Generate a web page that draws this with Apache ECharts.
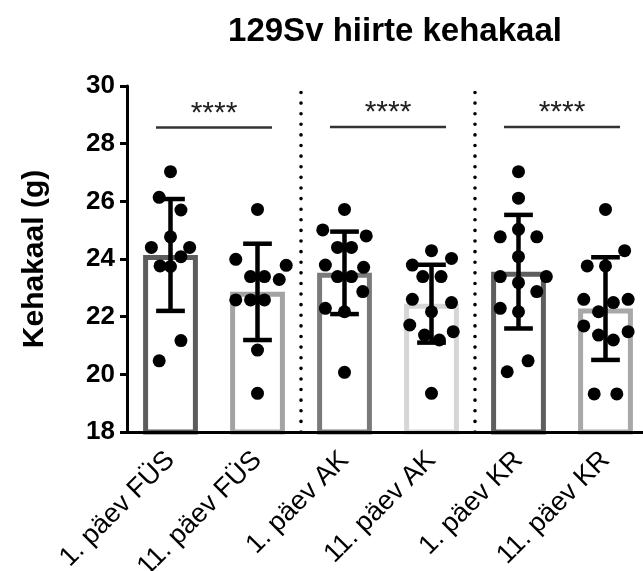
<!DOCTYPE html>
<html>
<head>
<meta charset="utf-8">
<script src="https://cdn.jsdelivr.net/npm/echarts@6/dist/echarts.min.js"></script>
<style>html,body{margin:0;padding:0;background:#fff}#c{width:643px;height:571px}</style>
</head>
<body>
<div id="c"></div>
<script>
// ---- data ----
const titleText = '129Sv hiirte kehakaal';
const yAxisName = 'Kehakaal (g)';
const categories = ['1. päev FÜS', '11. päev FÜS', '1. päev AK', '11. päev AK', '1. päev KR', '11. päev KR'];
const means = [24.14, 22.86, 23.52, 22.45, 23.56, 22.28];
const sds = [1.94, 1.67, 1.43, 1.35, 1.97, 1.78];
const dots1 = [27.03, 26.14, 25.70, 24.77, 24.40, 24.40, 24.08, 23.76, 23.74, 21.17, 20.47];
const dots2 = [25.72, 23.99, 23.78, 23.39, 23.39, 23.29, 22.58, 22.58, 22.58, 20.84, 19.34];
const dots3 = [25.72, 25.01, 24.80, 24.40, 24.40, 23.79, 23.71, 23.39, 23.39, 22.87, 22.29, 22.17, 20.07];
const dots4 = [24.29, 24.02, 23.79, 23.39, 23.39, 22.60, 22.49, 22.17, 21.71, 21.48, 21.36, 21.19, 19.34];
const dots5 = [27.03, 26.11, 25.03, 24.77, 24.77, 24.08, 23.39, 23.39, 23.18, 22.87, 22.29, 22.17, 20.47, 20.09];
const dots6 = [25.72, 24.29, 23.76, 23.76, 22.60, 22.60, 22.49, 22.17, 21.68, 21.48, 21.36, 21.19, 19.32, 19.32];
// horizontal beeswarm spread of each dot, in fractions of a category width
const jitter1 = [0, -0.13, 0.12, 0, -0.22, 0.22, 0.12, -0.12, 0, 0.12, -0.13];
const jitter2 = [0, -0.25, 0.33, -0.08, 0.08, 0.25, -0.25, -0.08, 0.08, 0, 0];
const jitter3 = [0, -0.25, 0.25, -0.08, 0.08, -0.22, 0.22, -0.08, 0.08, 0.21, -0.22, 0, 0];
const jitter4 = [0, 0.23, -0.22, -0.1, 0.11, -0.22, 0.23, 0, -0.25, 0.25, -0.08, 0.09, 0];
const jitter5 = [0, 0, 0, -0.21, 0.21, 0, -0.21, 0.32, 0, 0.21, -0.21, 0, 0.11, -0.13];
const jitter6 = [0, 0.22, -0.21, 0, -0.25, 0.26, 0.09, -0.08, -0.25, 0.26, -0.08, 0.09, -0.13, 0.13];
const yTicks = { min: 18, max: 30, interval: 2 };
const sigStart = [0, 2, 4];
const sigEnd = [1, 3, 5];
const sigLevel = [28.56, 28.58, 28.58];
const sigLabels = ['****', '****', '****'];
const separators = [1.5, 3.5];

// ---- styles ----
const FONT = '"Liberation Sans", Arial, Helvetica, sans-serif';
const barBorder = ['#5c5c5c', '#a3a3a3', '#7a7a7a', '#d6d6d6', '#5e5e5e', '#a8a8a8'];

const allDots = [dots1, dots2, dots3, dots4, dots5, dots6];
const allJitter = [jitter1, jitter2, jitter3, jitter4, jitter5, jitter6];
const scatterData = [];
allDots.forEach((arr, i) => arr.forEach((v, k) => scatterData.push([i + allJitter[i][k], v])));

const chart = echarts.init(document.getElementById('c'), null, { renderer: 'canvas' });
chart.setOption({
  backgroundColor: '#ffffff',
  animation: false,
  title: {
    text: titleText, left: 390, top: 10, textAlign: 'center',
    textStyle: { fontFamily: FONT, fontSize: 33, fontWeight: 'bold', color: '#000' }
  },
  grid: { left: 127, top: 86, width: 522, height: 346, containLabel: false, outerBoundsMode: 'none' },
  xAxis: [{
    type: 'category', data: categories, z: 10,
    axisLine: { onZero: false, lineStyle: { color: '#000', width: 3 } },
    axisTick: { alignWithLabel: true, length: 10, lineStyle: { color: '#000', width: 3 } },
    axisLabel: { rotate: 45, margin: 24, fontSize: 27, color: '#000', fontFamily: FONT, interval: 0 }
  }, {
    type: 'value', min: -0.5, max: 5.5, show: false,
    axisLine: { show: false, onZero: false }, splitLine: { show: false }
  }],
  yAxis: {
    type: 'value', min: yTicks.min, max: yTicks.max, interval: yTicks.interval,
    name: yAxisName, nameLocation: 'middle', nameGap: 77, nameRotate: 90,
    nameTextStyle: { fontFamily: FONT, fontSize: 30, fontWeight: 'bold', color: '#000' },
    axisLine: { show: true, onZero: false, lineStyle: { color: '#000', width: 3 } },
    axisTick: { show: true, length: 7, lineStyle: { color: '#000', width: 3 } },
    axisLabel: { margin: 12, fontSize: 26, fontWeight: 'bold', color: '#000', fontFamily: FONT },
    splitLine: { show: false }
  },
  series: [
    {
      type: 'bar', xAxisIndex: 0, barWidth: '63%',
      data: means.map((m, i) => ({ value: m, itemStyle: { color: '#fff', borderColor: barBorder[i], borderWidth: 5 } })),
      z: 2
    },
    {
      type: 'custom', xAxisIndex: 1, z: 3,
      dimensions: ['x', 'mean', 'sd'],
      encode: { x: 'x', y: 'mean' },
      data: means.map((m, i) => [i, m, sds[i]]),
      renderItem: function (params, api) {
        const x = api.value('x'), m = api.value('mean'), s = api.value('sd');
        const t = api.coord([x, m + s]);
        const b = api.coord([x, m - s]);
        const half = api.size([1, 0])[0] * 0.165;
        const st = { stroke: '#000', lineWidth: 4.5, fill: null };
        return { type: 'group', children: [
          { type: 'line', shape: { x1: t[0], y1: t[1], x2: b[0], y2: b[1] }, style: st },
          { type: 'line', shape: { x1: t[0] - half, y1: t[1], x2: t[0] + half, y2: t[1] }, style: st },
          { type: 'line', shape: { x1: b[0] - half, y1: b[1], x2: b[0] + half, y2: b[1] }, style: st }
        ] };
      }
    },
    {
      type: 'scatter', xAxisIndex: 1, z: 4,
      symbol: 'circle', symbolSize: 13,
      itemStyle: { color: '#000', opacity: 1 },
      data: scatterData,
      markLine: {
        silent: true, symbol: ['none', 'none'], label: { show: false },
        lineStyle: { color: '#000', width: 3.6, type: [0.01, 10.6], cap: 'round' },
        data: separators.map(s => ({ xAxis: s }))
      }
    },
    {
      type: 'custom', xAxisIndex: 1, z: 5,
      dimensions: ['a', 'b', 'y'],
      encode: { x: ['a', 'b'], y: 'y' },
      data: sigStart.map((a, i) => [a, sigEnd[i], sigLevel[i]]),
      renderItem: function (params, api) {
        const a = api.value('a'), b = api.value('b'), y = api.value('y');
        const c = (a + b) / 2;
        const p1 = api.coord([c - 0.667, y]);
        const p2 = api.coord([c + 0.667, y]);
        return { type: 'group', children: [
          { type: 'line', shape: { x1: p1[0], y1: p1[1], x2: p2[0], y2: p2[1] }, style: { stroke: '#333', lineWidth: 2.4, fill: null } },
          { type: 'text', x: (p1[0] + p2[0]) / 2, y: p1[1] + 1,
            style: { text: sigLabels[params.dataIndex], fill: '#222', font: '30px ' + FONT, align: 'center', verticalAlign: 'bottom' } }
        ] };
      }
    }
  ]
});
</script>
</body>
</html>
